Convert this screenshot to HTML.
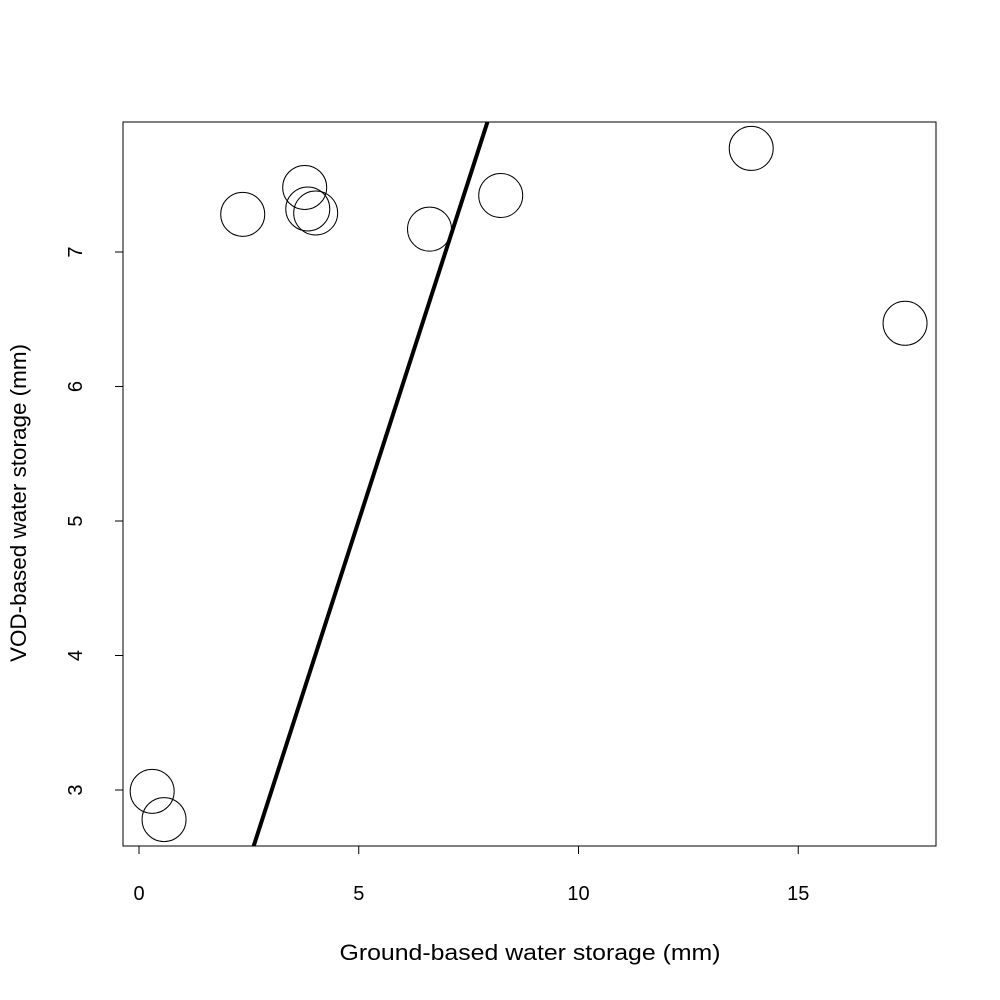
<!DOCTYPE html>
<html><head><meta charset="utf-8"><style>html,body{margin:0;background:#fff;overflow:hidden;width:1000px;height:1000px}svg{display:block}</style></head>
<body>
<svg id="chart" width="1000" height="1000" xmlns="http://www.w3.org/2000/svg" font-family="Liberation Sans, sans-serif">
<defs><clipPath id="clip"><rect x="123" y="122" width="813" height="724"/></clipPath></defs>
<rect x="123" y="122" width="813" height="724" fill="none" stroke="#000" stroke-width="1"/>
<g id="xaxis"></g>
<g id="yaxis"></g>
<g id="marks" clip-path="url(#clip)"></g>
<text x="530" y="960" text-anchor="middle" font-size="22" textLength="381" lengthAdjust="spacingAndGlyphs">Ground-based water storage (mm)</text>
<text transform="translate(26,503) rotate(-90)" text-anchor="middle" font-size="22" textLength="318" lengthAdjust="spacingAndGlyphs">VOD-based water storage (mm)</text>
</svg>
<script>
const xValues = [0.30, 0.57, 2.36, 3.77, 3.84, 4.02, 6.61, 8.23, 13.93, 17.43];
const yValues = [2.99, 2.78, 7.28, 7.48, 7.32, 7.29, 7.17, 7.42, 7.77, 6.47];
const xTicks = [0, 5, 10, 15];
const yTicks = [3, 4, 5, 6, 7];
const fitSlope = 1.012;
const fitIntercept = -0.057;
const xMin = -0.364, xMax = 18.11;

const NS = 'http://www.w3.org/2000/svg';
const L = 123, R = 936, T = 122, B = 846;
function sx(v){ return 139 + v * 43.95; }
function sy(v){ return 790 - (v - 3) * 134.5; }
function mk(tag, attrs, parent){ const e = document.createElementNS(NS, tag); for (const k in attrs) e.setAttribute(k, attrs[k]); parent.appendChild(e); return e; }

const xa = document.getElementById('xaxis');
mk('line', {x1: sx(xTicks[0]), x2: sx(xTicks[xTicks.length-1]), y1: B, y2: B, stroke: '#000'}, xa);
xTicks.forEach(t => {
  const l = mk('line', {x1: sx(t), x2: sx(t), y1: B, y2: B + 8, stroke: '#000'}, xa);
  
  
  const tx = mk('text', {x: sx(t), y: 900, 'text-anchor': 'middle', 'font-size': 20}, xa);
  tx.textContent = t;
  
  
});
const ya = document.getElementById('yaxis');
mk('line', {x1: L, x2: L, y1: sy(yTicks[0]), y2: sy(yTicks[yTicks.length-1]), stroke: '#000'}, ya);
yTicks.forEach(t => {
  const l = mk('line', {x1: L - 8, x2: L, y1: sy(t), y2: sy(t), stroke: '#000'}, ya);
  
  
  const tx = mk('text', {transform: `translate(82,${sy(t)}) rotate(-90)`, 'text-anchor': 'middle', 'font-size': 20}, ya);
  tx.textContent = t;
  
  
});
const mg = document.getElementById('marks');
xValues.forEach((x, i) => {
  const c = mk('circle', {cx: sx(x), cy: sy(yValues[i]), r: 22, fill: 'none', stroke: '#000', 'stroke-width': 1}, mg);
  
  
});
const fl = mk('line', {x1: sx(xMin), y1: sy(fitIntercept + fitSlope * xMin), x2: sx(xMax), y2: sy(fitIntercept + fitSlope * xMax), stroke: '#000', 'stroke-width': 4}, mg);


</script>
</body></html>
